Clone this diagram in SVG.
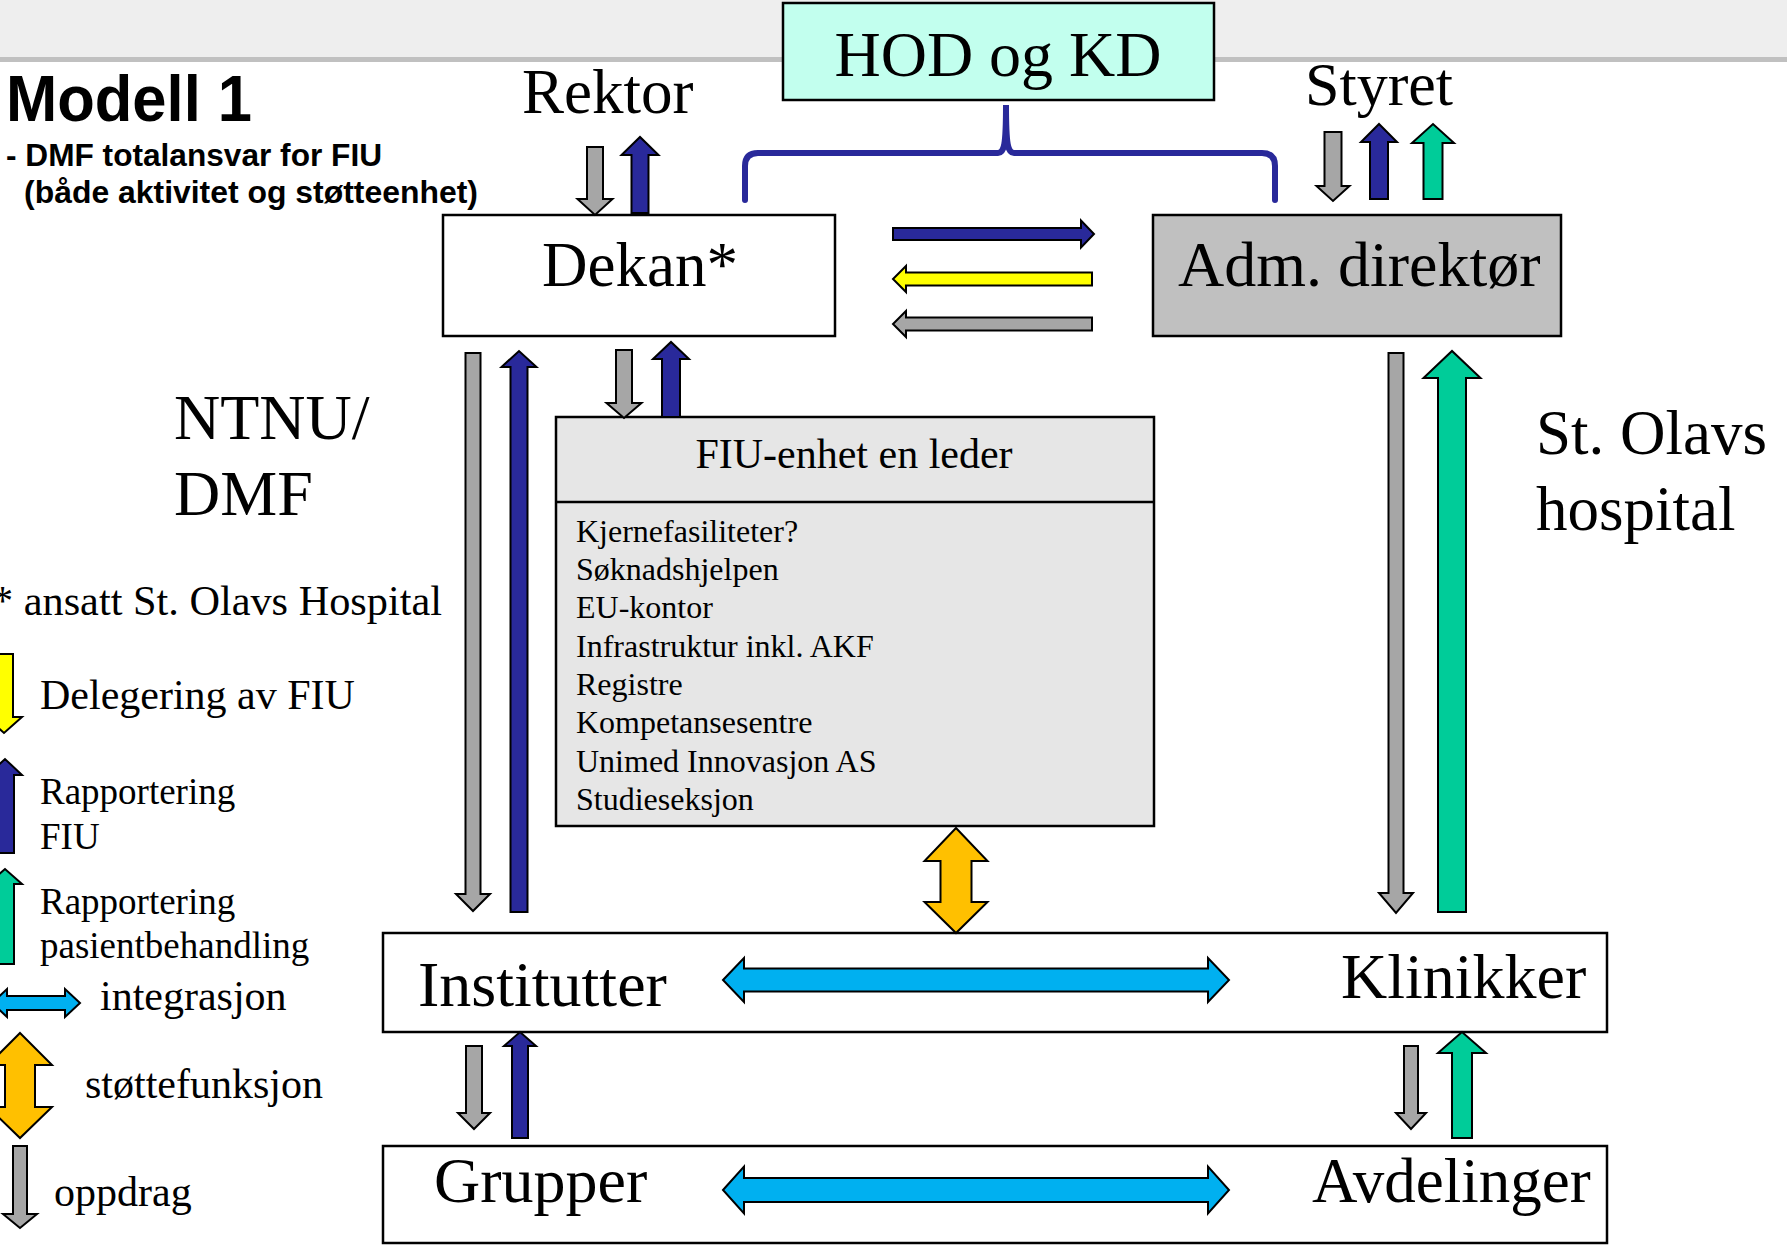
<svg xmlns="http://www.w3.org/2000/svg" width="1787" height="1246" viewBox="0 0 1787 1246">
<style>
.box{stroke:#000;stroke-width:2.5}
.serif{font-family:"Liberation Serif","Times New Roman",serif;fill:#000}
.sans{font-family:"Liberation Sans",Arial,sans-serif;font-weight:bold;fill:#000}
.arr{stroke:#000;stroke-width:2;stroke-linejoin:miter}
.gray{fill:#A6A6A6}
.blue{fill:#29299A}
.green{fill:#00CC99}
.yellow{fill:#FFFF00}
.orange{fill:#FFC000}
.cyan{fill:#00B0F0}
.bracket{fill:none;stroke:#29299A;stroke-width:6;stroke-linecap:round}
</style>
<rect x="0" y="0" width="1787" height="1246" fill="#FFFFFF"/>
<rect x="0" y="0" width="1787" height="57" fill="#EEEEEE"/>
<rect x="0" y="57" width="1787" height="5" fill="#C0C0C0"/>

<g id="title">
<text class="sans" x="6" y="121" font-size="64" textLength="246" lengthAdjust="spacingAndGlyphs">Modell 1</text>
<text class="sans" x="6" y="166" font-size="32" textLength="376" lengthAdjust="spacingAndGlyphs">- DMF totalansvar for FIU</text>
<text class="sans" x="24" y="203" font-size="32" textLength="454" lengthAdjust="spacingAndGlyphs">(både aktivitet og støtteenhet)</text>
</g>

<g id="hod">
<rect class="box" x="783" y="3" width="431" height="97" fill="#C2FFEE"/>
<text class="serif" x="998" y="76" font-size="64" text-anchor="middle">HOD og KD</text>
</g>

<g id="rektor"><text class="serif" x="522" y="113" font-size="63">Rektor</text></g>
<g id="styret"><text class="serif" x="1305" y="105" font-size="62">Styret</text></g>

<g id="dekan">
<rect class="box" x="443" y="215" width="392" height="121" fill="#FFFFFF"/>
<text class="serif" x="542" y="286" font-size="63">Dekan*</text>
</g>

<g id="adm">
<rect class="box" x="1153" y="215" width="408" height="121" fill="#C0C0C0"/>
<text class="serif" x="1178" y="286" font-size="64">Adm. direktør</text>
</g>

<g id="fiu">
<rect class="box" x="556" y="417" width="598" height="409" fill="#E6E6E6"/>
<line x1="556" y1="502" x2="1154" y2="502" stroke="#000" stroke-width="2.5"/>
<text class="serif" x="854" y="468" font-size="42" text-anchor="middle">FIU-enhet en leder</text>
<g class="serif" font-size="32">
<text x="576" y="542">Kjernefasiliteter?</text>
<text x="576" y="580">Søknadshjelpen</text>
<text x="576" y="618">EU-kontor</text>
<text x="576" y="657">Infrastruktur inkl. AKF</text>
<text x="576" y="695">Registre</text>
<text x="576" y="733">Kompetansesentre</text>
<text x="576" y="772">Unimed Innovasjon AS</text>
<text x="576" y="810">Studieseksjon</text>
</g>
</g>

<g id="ntnu">
<text class="serif" x="174" y="439" font-size="64">NTNU/</text>
<text class="serif" x="174" y="515" font-size="64">DMF</text>
</g>

<g id="stolavs">
<text class="serif" x="1536" y="454" font-size="63">St. Olavs</text>
<text class="serif" x="1536" y="530" font-size="63">hospital</text>
</g>

<g id="note"><text class="serif" x="-8" y="615" font-size="42" textLength="450" lengthAdjust="spacingAndGlyphs">* ansatt St. Olavs Hospital</text></g>

<g id="institutter-klinikker">
<rect class="box" x="383" y="933" width="1224" height="99" fill="#FFFFFF"/>
<text class="serif" x="418" y="1006" font-size="64">Institutter</text>
<text class="serif" x="1341" y="998" font-size="64">Klinikker</text>
</g>

<g id="grupper-avdelinger">
<rect class="box" x="383" y="1146" width="1224" height="97" fill="#FFFFFF"/>
<text class="serif" x="434" y="1202" font-size="64">Grupper</text>
<text class="serif" x="1312" y="1202" font-size="63">Avdelinger</text>
</g>

<g id="connectors">
<path class="bracket" d="M745,200 V166 Q745,153 758,153 H998 C1004,153 1006,146 1006,105 C1006,146 1008,153 1014,153 H1262 Q1275,153 1275,166 V200"/>
<!-- Rektor -->
<path class="arr gray" d="M587,147 H603 V199 H612.5 L595,215 L577.5,199 H587 Z"/>
<path class="arr blue" d="M631.5,213 H648.5 V155 H658.5 L640,137 L621.5,155 H631.5 Z"/>
<!-- Styret -->
<path class="arr gray" d="M1324.5,132 H1341.5 V186 H1349.5 L1333,201 L1316.5,186 H1324.5 Z"/>
<path class="arr blue" d="M1370,199 H1388 V142 H1397 L1379,124 L1361,142 H1370 Z"/>
<path class="arr green" d="M1423.5,199 H1442.5 V143 H1454 L1433,124 L1412,143 H1423.5 Z"/>
<!-- Dekan / FIU -->
<path class="arr gray" d="M616,350 H632 V403 H641.5 L624,418 L606.5,403 H616 Z"/>
<path class="arr blue" d="M662,417 H680 V359 H689 L671,342 L653,359 H662 Z"/>
<!-- left long -->
<path class="arr gray" d="M465.5,353 H480.5 V894 H490 L473,911 L456,894 H465.5 Z"/>
<path class="arr blue" d="M510.5,912 H527.5 V367 H536.5 L519,351 L501.5,367 H510.5 Z"/>
<!-- right long -->
<path class="arr gray" d="M1388.5,353 H1403.5 V893 H1413 L1396,913 L1379,893 H1388.5 Z"/>
<path class="arr green" d="M1438,912 H1466 V378 H1480.5 L1452,351 L1423.5,378 H1438 Z"/>
<!-- horizontal between Dekan and Adm -->
<path class="arr blue" d="M893,228 V240 H1081 V247.5 L1094,234 L1081,220.5 V228 Z"/>
<path class="arr yellow" d="M1092,272.5 V285.5 H906 V292 L893,279 L906,266 V272.5 Z"/>
<path class="arr gray" d="M1092,317.5 V330.5 H906 V337 L893,324 L906,311 V317.5 Z"/>
<!-- orange support -->
<path class="arr orange" d="M956,828 L987.5,861 H971.5 V902 H987.5 L956,933 L924.5,902 H940.5 V861 H924.5 Z"/>
<!-- cyan integration -->
<path class="arr cyan" d="M723,980 L744,958 V968.5 H1208 V958 L1229,980 L1208,1002 V991.5 H744 V1002 Z"/>
<path class="arr cyan" d="M723,1190 L744,1166.5 V1178 H1208 V1166.5 L1229,1190 L1208,1213.5 V1202 H744 V1213.5 Z"/>
<!-- lower -->
<path class="arr gray" d="M466,1046 H482 V1113 H490 L474,1129 L458,1113 H466 Z"/>
<path class="arr blue" d="M512,1138 H528 V1046 H536 L520,1032 L504,1046 H512 Z"/>
<path class="arr gray" d="M1404,1046 H1418 V1113 H1426 L1411,1129 L1396,1113 H1404 Z"/>
<path class="arr green" d="M1452,1138 H1472 V1053 H1486 L1462,1032 L1438,1053 H1452 Z"/>
</g>

<g id="legend">
<path class="arr yellow" d="M-5,654 H13 V717 H22 L4,733 L-14,717 H-5 Z"/>
<text class="serif" x="40" y="709" font-size="42">Delegering av FIU</text>
<path class="arr blue" d="M-4,853 H14 V775 H22 L5,759 L-12,775 H-4 Z"/>
<text class="serif" x="40" y="804" font-size="37">Rapportering</text>
<text class="serif" x="40" y="849" font-size="37">FIU</text>
<path class="arr green" d="M-4,964 H14 V884 H22 L5,869 L-12,884 H-4 Z"/>
<text class="serif" x="40" y="914" font-size="37">Rapportering</text>
<text class="serif" x="40" y="958" font-size="37">pasientbehandling</text>
<path class="arr cyan" d="M-8,1003 L7,989 V996 H65 V989 L80,1003 L65,1017 V1010 H7 V1017 Z"/>
<text class="serif" x="100" y="1010" font-size="42">integrasjon</text>
<path class="arr orange" d="M20,1033 L52,1065 H35 V1107 H52 L20,1138 L-12,1107 H5 V1065 H-12 Z"/>
<text class="serif" x="85" y="1098" font-size="42">støttefunksjon</text>
<path class="arr gray" d="M13,1146 H27 V1214 H37 L20,1228 L3,1214 H13 Z"/>
<text class="serif" x="54" y="1206" font-size="42">oppdrag</text>
</g>
</svg>
